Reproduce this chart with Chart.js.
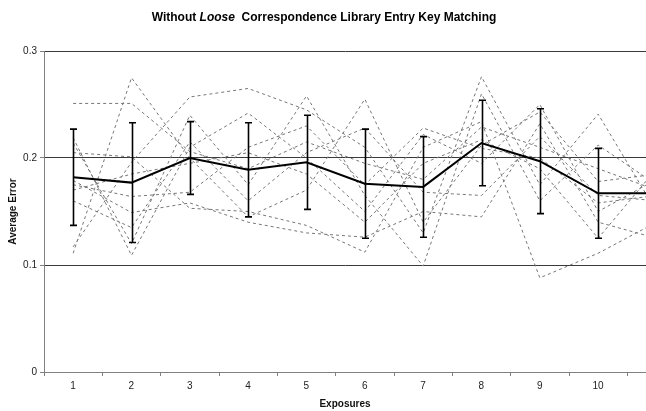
<!DOCTYPE html>
<html>
<head>
<meta charset="utf-8">
<script src="https://cdn.jsdelivr.net/npm/chart.js@4/dist/chart.umd.min.js"></script>
<style>
  html, body { margin: 0; padding: 0; background: #ffffff; overflow: hidden; }
  #wrap { width: 646px; height: 411px; position: relative; }
</style>
</head>
<body>
<div id="wrap"><canvas id="chart" width="646" height="411"></canvas></div>
<script>
// Exposure index for every recorded point (the 11th runs off the right edge).
const exposures = [1, 2, 3, 4, 5, 6, 7, 8, 9, 10, 11];

// Average error of each individual run.
const run1  = [0.251, 0.251, 0.206, 0.190, 0.215, 0.195, 0.180, 0.229, 0.210, 0.190, 0.170];
const run2  = [0.111, 0.275, 0.200, 0.145, 0.170, 0.255, 0.140, 0.212, 0.243, 0.178, 0.185];
const run3  = [0.117, 0.196, 0.257, 0.265, 0.245, 0.210, 0.130, 0.276, 0.175, 0.241, 0.150];
const run4  = [0.219, 0.109, 0.210, 0.242, 0.200, 0.150, 0.222, 0.195, 0.250, 0.150, 0.180];
const run5  = [0.214, 0.120, 0.240, 0.175, 0.258, 0.165, 0.099, 0.260, 0.160, 0.212, 0.175];
const run6  = [0.205, 0.201, 0.153, 0.150, 0.137, 0.112, 0.210, 0.234, 0.088, 0.111, 0.140];
const run7  = [0.179, 0.149, 0.158, 0.140, 0.130, 0.126, 0.150, 0.145, 0.232, 0.140, 0.125];
const run8  = [0.175, 0.164, 0.168, 0.210, 0.230, 0.175, 0.228, 0.209, 0.200, 0.158, 0.165];
const run9  = [0.170, 0.185, 0.195, 0.205, 0.185, 0.140, 0.195, 0.217, 0.190, 0.125, 0.190];
const run10 = [0.160, 0.135, 0.215, 0.160, 0.205, 0.228, 0.168, 0.165, 0.220, 0.165, 0.160];

// Mean over all runs and the half-height of its error bar.
const meanError   = [0.182, 0.177, 0.200, 0.189, 0.196, 0.176, 0.173, 0.214, 0.197, 0.167, 0.167];
const errorMargin = [0.045, 0.056, 0.034, 0.044, 0.044, 0.051, 0.047, 0.040, 0.049, 0.042, null];

// Axis labelling.
const xTickLabels = ['1', '2', '3', '4', '5', '6', '7', '8', '9', '10'];
const yTickValues = [0, 0.1, 0.2, 0.3];

const runs = [run1, run2, run3, run4, run5, run6, run7, run8, run9, run10];
const toPoints = arr => arr.map((v, i) => ({ x: exposures[i], y: v }));

const runDatasets = runs.map((r, i) => ({
  label: 'Run ' + (i + 1),
  data: toPoints(r),
  borderColor: '#767676',
  borderWidth: 1,
  borderDash: [3, 3],
  pointRadius: 0,
  tension: 0,
  order: 2
}));

const meanDataset = {
  label: 'Mean',
  data: toPoints(meanError),
  borderColor: '#000000',
  borderWidth: 2,
  pointRadius: 0,
  tension: 0,
  order: 1
};

// Vertical error bars with short caps around the mean.
const errorBars = {
  id: 'errorBars',
  afterDatasetsDraw(chart) {
    const { ctx, scales: { x, y }, chartArea } = chart;
    ctx.save();
    ctx.beginPath();
    ctx.rect(chartArea.left, chartArea.top, chartArea.right - chartArea.left, chartArea.bottom - chartArea.top);
    ctx.clip();
    ctx.strokeStyle = '#000000';
    ctx.lineWidth = 1.6;
    meanError.forEach((m, i) => {
      const e = errorMargin[i];
      if (e == null) return;
      const px = Math.round(x.getPixelForValue(exposures[i])) + 0.5;
      const top = y.getPixelForValue(m + e);
      const bot = y.getPixelForValue(m - e);
      ctx.beginPath();
      ctx.moveTo(px, top); ctx.lineTo(px, bot);
      ctx.moveTo(px - 3.5, top); ctx.lineTo(px + 3.5, top);
      ctx.moveTo(px - 3.5, bot); ctx.lineTo(px + 3.5, bot);
      ctx.stroke();
    });
    ctx.restore();
  }
};

// Chart heading with one italic word.
const heading = {
  id: 'heading',
  afterDraw(chart) {
    const { ctx, width } = chart;
    const parts = [
      { t: 'Without ', f: 'bold 12px Arial, "Liberation Sans", sans-serif' },
      { t: 'Loose', f: 'italic bold 12px Arial, "Liberation Sans", sans-serif' },
      { t: '  Correspondence Library Entry Key Matching', f: 'bold 12px Arial, "Liberation Sans", sans-serif' }
    ];
    ctx.save();
    ctx.fillStyle = '#000000';
    ctx.textBaseline = 'middle';
    let total = 0;
    parts.forEach(p => { ctx.font = p.f; p.w = ctx.measureText(p.t).width; total += p.w; });
    let xPos = width / 2 - total / 2 + 1;
    parts.forEach(p => { ctx.font = p.f; ctx.fillText(p.t, xPos, 18); xPos += p.w; });
    ctx.restore();
  }
};

new Chart(document.getElementById('chart'), {
  type: 'line',
  data: { datasets: [...runDatasets, meanDataset] },
  options: {
    responsive: false,
    animation: false,
    layout: { padding: { top: 51, right: 0, bottom: 0, left: 0 } },
    plugins: { legend: { display: false }, title: { display: false }, tooltip: { enabled: false } },
    scales: {
      x: {
        type: 'linear',
        min: 0.5,
        max: 10.82,
        afterBuildTicks(scale) {
          scale.ticks = xTickLabels.map((_, i) => ({ value: i + 0.5 })).concat([{ value: 10.5 }]);
        },
        afterFit(scale) { scale.height = 39; },
        ticks: {
          labelOffset: 29,
          padding: 4,
          maxRotation: 0,
          autoSkip: false,
          color: '#222222',
          font: { family: 'Arial, "Liberation Sans", sans-serif', size: 10 },
          callback: (v, i) => (i < xTickLabels.length ? xTickLabels[i] : '')
        },
        grid: { display: true, drawOnChartArea: false, tickLength: 4, color: '#808080' },
        border: { display: true, color: '#808080', width: 1 },
        title: {
          display: true,
          text: 'Exposures',
          color: '#111111',
          padding: { top: 0, bottom: 1 },
          font: { family: 'Arial, "Liberation Sans", sans-serif', size: 10, weight: 'bold' }
        }
      },
      y: {
        min: 0,
        max: 0.3,
        afterBuildTicks(scale) {
          scale.ticks = yTickValues.map(v => ({ value: v }));
        },
        afterFit(scale) { scale.width = 44; },
        ticks: {
          padding: 3,
          color: '#222222',
          font: { family: 'Arial, "Liberation Sans", sans-serif', size: 10 },
          callback: v => String(v)
        },
        grid: {
          tickLength: 4,
          color: ctx => (ctx.tick && ctx.tick.value === 0 ? '#808080' : '#3a3a3a'),
          tickColor: '#808080'
        },
        border: { display: true, color: '#808080', width: 1 },
        title: {
          display: true,
          text: 'Average Error',
          color: '#111111',
          padding: { top: 7, bottom: 0 },
          font: { family: 'Arial, "Liberation Sans", sans-serif', size: 10, weight: 'bold' }
        }
      }
    }
  },
  plugins: [errorBars, heading]
});
</script>
</body>
</html>
